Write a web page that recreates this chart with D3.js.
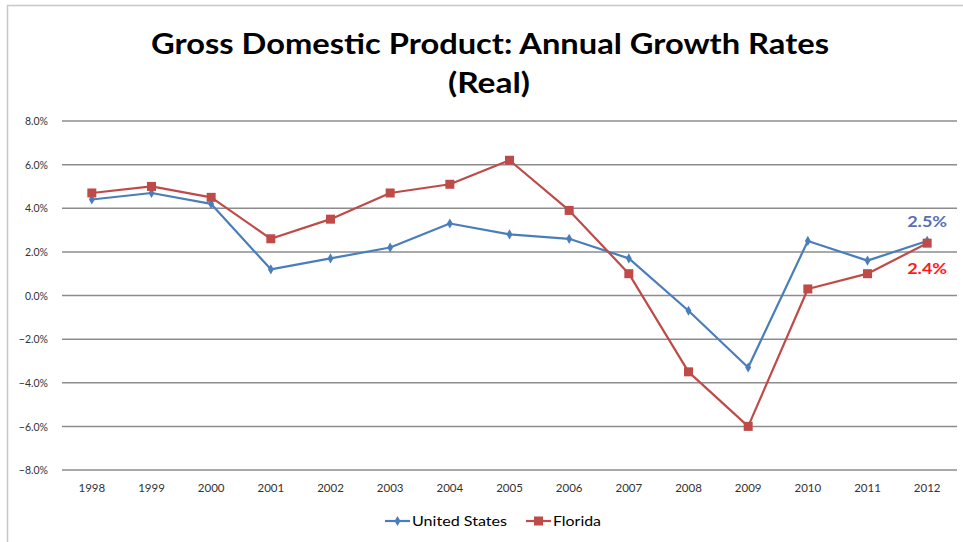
<!DOCTYPE html>
<html><head><meta charset="utf-8">
<script src="https://cdn.jsdelivr.net/npm/d3@7"></script>
<style>body{margin:0;background:#fff}svg{display:block}</style>
</head><body>
<svg id="chart" width="963" height="542"></svg>
<script>
const years = ["1998","1999","2000","2001","2002","2003","2004","2005","2006","2007","2008","2009","2010","2011","2012"];
const usValues = [4.4, 4.7, 4.2, 1.2, 1.7, 2.2, 3.3, 2.8, 2.6, 1.7, -0.7, -3.3, 2.5, 1.6, 2.5];
const flValues = [4.7, 5.0, 4.5, 2.6, 3.5, 4.7, 5.1, 6.2, 3.9, 1.0, -3.5, -6.0, 0.3, 1.0, 2.4];
const yTicks = [-8, -6, -4, -2, 0, 2, 4, 6, 8];
const seriesNames = ["United States", "Florida"];
const endLabels = ["2.5%", "2.4%"];

const svg = d3.select("#chart");
const plotLeft = 62, plotRight = 957, plotTop = 121, plotBottom = 470;
const font = "Lato, 'Open Sans', sans-serif";

svg.append("rect").attr("x", 7.5).attr("y", 5.5).attr("width", 1000).attr("height", 600)
  .attr("fill", "#fff").attr("stroke", "#c8c8c8").attr("stroke-width", 1.5);

const x = d3.scaleBand().domain(years).range([plotLeft, plotRight]);
const y = d3.scaleLinear().domain([-8, 8]).range([plotBottom, plotTop]);

// gridlines
svg.append("g").selectAll("line").data(yTicks).join("line")
  .attr("x1", plotLeft).attr("x2", plotRight)
  .attr("y1", d => y(d)).attr("y2", d => y(d))
  .attr("stroke", "#8c8c8c").attr("stroke-width", 1.5);

// y axis labels
const yAxis = d3.axisLeft(y).tickValues(yTicks).tickSize(0).tickPadding(0)
  .tickFormat(d => d3.format(".1f")(d) + "%");
const gy = svg.append("g").attr("transform", `translate(48,0)`).call(yAxis);
gy.select(".domain").remove();
gy.selectAll("text").attr("font-family", font).attr("font-size", 10.5).attr("fill", "#333")
  .attr("dy", "0.35em");

// x axis labels
const xAxis = d3.axisBottom(x).tickSize(0).tickPadding(0);
const gx = svg.append("g").attr("transform", `translate(0,484)`).call(xAxis);
gx.select(".domain").remove();
gx.selectAll("text").attr("font-family", font).attr("font-size", 11.5).attr("fill", "#333");

const colors = ["#4a7ebb", "#be4b48"];
const data = [usValues, flValues];
const line = d3.line().x((d, i) => x(years[i]) + x.bandwidth() / 2).y(d => y(d));

data.forEach((vals, s) => {
  svg.append("path").datum(vals).attr("d", line)
    .attr("fill", "none").attr("stroke", colors[s]).attr("stroke-width", 2.2)
    .attr("stroke-linejoin", "round");
});
// markers
svg.append("g").selectAll("path").data(usValues).join("path")
  .attr("transform", (d, i) => `translate(${x(years[i]) + x.bandwidth() / 2},${y(d)})`)
  .attr("d", d3.symbol(d3.symbolDiamond, 30)())
  .attr("fill", colors[0]);
svg.append("g").selectAll("rect").data(flValues).join("rect")
  .attr("x", (d, i) => x(years[i]) + x.bandwidth() / 2 - 4.5)
  .attr("y", d => y(d) - 4.5)
  .attr("width", 9).attr("height", 9)
  .attr("fill", colors[1]);

// end labels
const last = years[years.length - 1];
const lx = x(last) + x.bandwidth() / 2;
svg.append("text").attr("x", lx).attr("y", 227).attr("text-anchor", "middle")
  .attr("font-family", font).attr("font-weight", "bold").attr("font-size", 16)
  .attr("textLength", 40).attr("lengthAdjust", "spacingAndGlyphs")
  .attr("fill", "#5a6fae").text(endLabels[0]);
svg.append("text").attr("x", lx).attr("y", 274).attr("text-anchor", "middle")
  .attr("font-family", font).attr("font-weight", "bold").attr("font-size", 16)
  .attr("textLength", 40).attr("lengthAdjust", "spacingAndGlyphs")
  .attr("fill", "#ff1a1a").text(endLabels[1]);

// title
svg.append("text").attr("x", 490).attr("y", 54).attr("text-anchor", "middle")
  .attr("font-family", font).attr("font-weight", "bold").attr("font-size", 29)
  .attr("textLength", 678).attr("lengthAdjust", "spacingAndGlyphs")
  .attr("fill", "#000").text("Gross Domestic Product: Annual Growth Rates");
svg.append("text").attr("x", 489).attr("y", 93).attr("text-anchor", "middle")
  .attr("font-family", font).attr("font-weight", "bold").attr("font-size", 29)
  .attr("textLength", 82).attr("lengthAdjust", "spacingAndGlyphs")
  .attr("fill", "#000").text("(Real)");

// legend
const legX = [385, 526];
const legLen = [95, 48];
seriesNames.forEach((name, s) => {
  const g = svg.append("g").attr("transform", `translate(${legX[s]},521)`);
  g.append("line").attr("x1", 0).attr("x2", 25).attr("y1", 0).attr("y2", 0)
    .attr("stroke", colors[s]).attr("stroke-width", 2.2);
  if (s === 0) {
    g.append("path").attr("transform", "translate(12.5,0)")
      .attr("d", d3.symbol(d3.symbolDiamond, 30)()).attr("fill", colors[0]);
  } else {
    g.append("rect").attr("x", 8).attr("y", -4.5).attr("width", 9).attr("height", 9).attr("fill", colors[1]);
  }
  g.append("text").attr("x", 27).attr("y", 0).attr("dy", "0.35em")
    .attr("font-family", font).attr("font-size", 14)
    .attr("textLength", legLen[s]).attr("lengthAdjust", "spacingAndGlyphs")
    .attr("fill", "#000").text(name);
});
</script>
</body></html>
